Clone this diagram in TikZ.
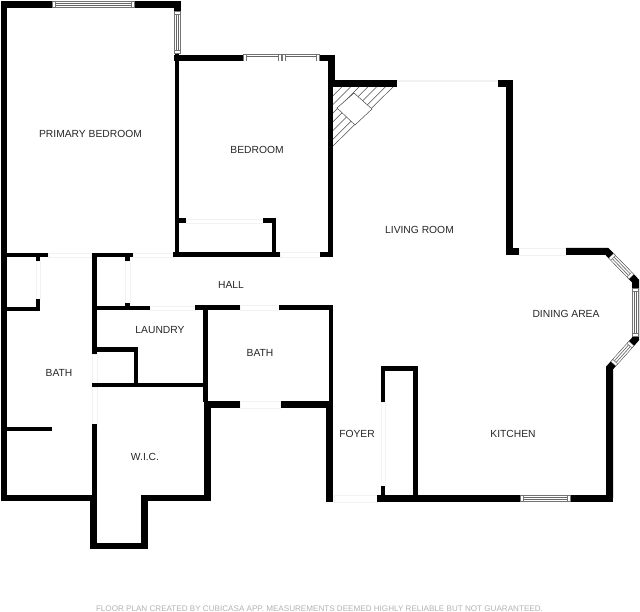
\documentclass[tikz,border=0pt]{standalone}
\usepackage{fontspec}
\setmainfont{Liberation Sans}
\usetikzlibrary{calc}
\tikzset{
    wall/.style={fill=black},
    doorway/.style={draw=gray!10, line width=0.8pt, fill=white},
    roomlabel/.style={font=\fontsize{10.3}{12}\selectfont, text=black!85, inner sep=0pt, yshift=-0.7pt},
    hatch/.style={draw=black!70, line width=0.5pt},
}
% one window pane between two points, built up in layers
\newcommand{\windowpane}[2]{
    \foreach \w/\s/\c in {7/0/black!55, 5.8/0.6/white, 5.8/2.8/black!55, 5.8/3.6/white, 3/3.6/black!60, 1.4/3.6/white} {
        \draw[line width=\w pt, draw=\c, shorten <=\s pt, shorten >=\s pt] #1 -- #2;
    }
}
\begin{document}
\begin{tikzpicture}[x=1pt,y=-1pt]
            \useasboundingbox (0,0) rectangle (640,612);
            \fill[white] (0,0) rectangle (640,612);

            % Draw the door openings
            \foreach \xa/\ya/\xb/\yb in {48/253/91/257, 133/253/173/257, 280/252/320/257, 186/219/263/223,
                36/261/40/299, 125/261/130/303, 150/306/195/310, 240/305/279/310, 240/401/280/408,
                92/354/97/383, 92/387/97/424, 334/495/377/502, 381/402/385/486, 519/248/566/255, 397/80/498/81} {
                \draw[doorway] (\xa,\ya) rectangle (\xb,\yb);
            }

            % Draw the walls
            \foreach \xa/\ya/\xb/\yb in {1/1/7/501, 1/1/52/8, 135/1/181/8, 174/1/181/11,
                175/54/179/255, 174/55/243/61, 320/55/335/61, 328/55/335/87, 328/87/333/257,
                333/80/397/87, 173/252/280/257, 320/252/333/257,
                272/218/276/253, 179/218/186/223, 263/218/276/223,
                7/253/48/257, 92/253/133/257, 92/253/97/354,
                36/257/40/261, 125/257/130/261, 125/303/130/308, 36/299/40/311, 7/307/40/311,
                97/306/150/310, 195/305/240/310, 279/305/333/310, 329/305/333/402,
                97/347/137/352, 134/347/138/385, 92/383/204/387,
                203/305/208/402, 204/402/211/501, 207/401/240/408, 281/401/333/408, 326/402/333/502,
                7/427/52/431, 92/424/97/497, 1/495/97/501, 90/495/97/549, 90/543/148/549,
                141/495/148/549, 141/495/211/501,
                381/366/385/402, 381/366/418/371, 413/366/418/498, 381/486/385/497,
                377/495/520/502, 571/495/613/502, 498/80/513/87, 506/80/513/255, 506/248/519/255} {
                \fill[wall] (\xa,\ya) rectangle (\xb,\yb);
            }

            % Draw the bay of the dining area
            \coordinate (bayA) at (566,251.5);
            \coordinate (bayB) at (607,251.5);
            \coordinate (bayC) at (635.5,281);
            \coordinate (bayD) at (635.5,339);
            \coordinate (bayE) at (609.5,368);
            \coordinate (bayF) at (609.5,498);
            \draw[line width=7pt] (bayA) -- (bayB) -- (bayC) -- (bayD) -- (bayE) -- (bayF);

            % Draw the windows
            \windowpane{(52,4.5)}{(135,4.5)}
            \windowpane{(177.5,11)}{(177.5,54)}
            \windowpane{(243,58)}{(282,58)}
            \windowpane{(282,58)}{(320,58)}
            \windowpane{(520,498.5)}{(571,498.5)}
            \windowpane{($(bayB)!.14!(bayC)$)}{($(bayB)!.86!(bayC)$)}
            \windowpane{(635.5,288)}{(635.5,337)}
            \windowpane{($(bayD)!.15!(bayE)$)}{($(bayD)!.86!(bayE)$)}

            % Draw the fireplace
            \coordinate (hearthA) at (333,87);
            \coordinate (hearthB) at (393,87);
            \coordinate (hearthC) at (333,146);
            \foreach \k in {1,...,6} {
                \draw[hatch] (333+8.7*\k,87) -- (333,87+8.7*\k);
            }
            \draw[hatch] (hearthB) -- (hearthC);
            \draw[hatch, fill=white] (354,93) -- (372,109) -- (355,125) -- (337,108) -- cycle;

            % Draw the room labels
            \foreach \x/\y/\name/\label in {90.5/133/primary/PRIMARY BEDROOM, 257/149.5/bedroom/BEDROOM,
                419.5/229/living/LIVING ROOM, 231/284/hall/HALL, 160/329/laundry/LAUNDRY, 59/372/bathA/BATH,
                260/352/bathB/BATH, 566/313/dining/DINING AREA, 513/433/kitchen/KITCHEN,
                357/433/foyer/FOYER, 145/456/wic/W.I.C.} {
                \node[roomlabel] (\name) at (\x,\y) {\label};
            }

            % Draw the footer
            \node[font=\fontsize{8.1}{10}\selectfont, text=black!30, inner sep=0pt] (footer) at (319.5,609)
                {FLOOR PLAN CREATED BY CUBICASA APP. MEASUREMENTS DEEMED HIGHLY RELIABLE BUT NOT GUARANTEED.};
        \end{tikzpicture}
\end{document}
